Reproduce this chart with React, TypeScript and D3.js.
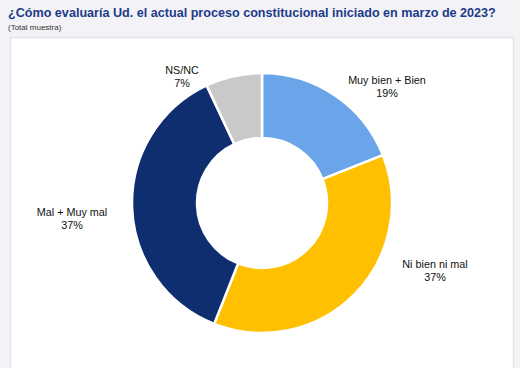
import React from "react";
import * as d3 from "d3";

const categories = ["Muy bien + Bien", "Ni bien ni mal", "Mal + Muy mal", "NS/NC"];
const values = [19, 37, 37, 7];
const colors = ["#6AA5E9", "#FEC000", "#0E2E70", "#C9C9C9"];
const title = "¿Cómo evaluaría Ud. el actual proceso constitucional iniciado en marzo de 2023?";
const subtitle = "(Total muestra)";

const W = 520;
const H = 368;
const cx = 262;
const cy = 203;
const outerR = 130;
const innerR = 65;
const labelPositions: [number, number][] = [
  [387, 84],
  [435, 268],
  [72, 216],
  [182, 74],
];

export default function App() {
  const pie = d3.pie<number>().sort(null).value((d) => d)(values);
  const arc = d3.arc<d3.PieArcDatum<number>>().innerRadius(innerR).outerRadius(outerR);
  return (
    <svg
      width={W}
      height={H}
      style={{ position: "absolute", left: 0, top: 0, fontFamily: "'Liberation Sans', Arial, sans-serif" }}
    >
      <rect x={0} y={0} width={W} height={H} fill="#F3F3F7" />
      <rect x={10.5} y={37.5} width={503} height={340} fill="#FFFFFF" stroke="#E2E2E8" strokeWidth={1.5} />
      <text x={8} y={17} fontSize={12.6} fontWeight="bold" fill="#1E3A8A">
        {title}
      </text>
      <text x={8} y={30} fontSize={8} fill="#333">
        {subtitle}
      </text>
      <g transform={`translate(${cx},${cy})`}>
        {pie.map((p, i) => (
          <path key={i} d={arc(p) || ""} fill={colors[i]} stroke="#FFFFFF" strokeWidth={2.5} strokeLinejoin="round" />
        ))}
      </g>
      {pie.map((p, i) => {
        const [x, y] = labelPositions[i];
        return (
          <text key={i} x={x} y={y} fontSize={10.8} fill="#111" textAnchor="middle">
            <tspan x={x} dy={0}>{categories[i]}</tspan>
            <tspan x={x} dy={12.5}>{`${values[i]}%`}</tspan>
          </text>
        );
      })}
    </svg>
  );
}
